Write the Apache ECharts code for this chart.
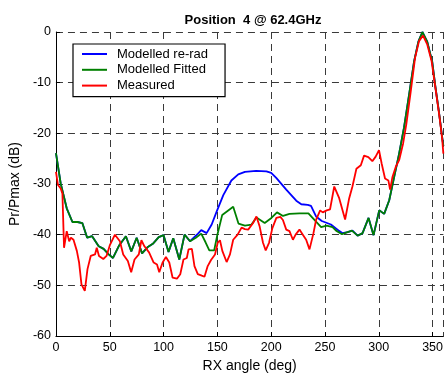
<!DOCTYPE html>
<html>
<head>
<meta charset="utf-8">
<script src="https://cdn.jsdelivr.net/npm/echarts@6/dist/echarts.min.js"></script>
<style>
  html, body { margin: 0; padding: 0; background: #fff; }
  #chart { width: 446px; height: 378px; }
</style>
</head>
<body>
<div id="chart"></div>
<script>
const TITLE = "Position  4 @ 62.4GHz";
const SERIES_NAMES = ["Modelled re-rad", "Modelled Fitted", "Measured"];
const X_TICKS = [0, 50, 100, 150, 200, 250, 300, 350];
const Y_TICKS = [0, -10, -20, -30, -40, -50, -60];

// blue: modelled re-rad
const reradAngle = [0, 4.4, 10, 15.3, 20, 24.5, 29, 33.6, 39.7, 44.3, 49, 53, 58.5, 65, 70, 75, 80, 85, 90, 95.5, 100, 104.6, 109, 114.6, 119.5, 124.6,
  129.5, 132, 135, 140, 144.7, 149.4, 155.5, 163, 169.4, 175.6, 186, 195.6, 200, 204.7, 214, 223.3, 228, 234, 237, 241.7, 247, 255.5, 263.4, 266.4,
  271, 275.6, 280.3, 284.9, 290.5, 295.1, 300.4, 305, 309.7, 314.3, 318.9, 323.5, 328.2, 332.8, 336.8, 340.5, 345, 349.6, 352.7, 355.8, 358.9, 360];
const reradDb = [-23.9, -29.9, -34.8, -37.5, -37.5, -37.7, -40.6, -40.3, -42.3, -42.8, -43.9, -44.6, -42.2, -40.3, -43.3, -40.6, -43.7, -42.5, -41.8, -40.5, -40.1, -43.4, -40.7, -44.9, -40, -41.3,
  -40.3, -39.8, -39.1, -39.7, -38, -35.4, -32.2, -29.3, -28.1, -27.6, -27.4, -27.5, -27.8, -28.8, -31.1, -33.3, -34, -34.1, -34.3, -36.4, -37.3, -38, -39.3, -39.7,
  -39.5, -39.2, -40.2, -39.7, -36.7, -40.1, -35.2, -35.9, -33.2, -28.6, -24, -18.8, -12.3, -5.8, -1.9, 0, -1.9, -5.8, -11, -15.6, -20.8, -22.5];

// green: modelled fitted
const fittedAngle = [0, 4.4, 10, 15.3, 20, 24.5, 29, 33.6, 39.7, 44.3, 49, 53, 58.5, 65, 70, 75, 80, 85, 90, 95.5, 100, 104.6, 109, 114.6, 119.5, 124.6,
  130, 135, 139, 142.5, 147, 150, 154.5, 164.7, 169.6, 175.6, 181.7, 186.3, 194, 200.2, 205.4, 211, 217, 226.3, 234.6, 240.2, 246.4, 251.6, 257, 260.3, 265.8,
  271, 275, 280.3, 284.9, 290.5, 295.1, 300.4, 305, 309.7, 314.3, 318.9, 323.5, 328.2, 332.8, 336.8, 340.5, 345, 349.6, 352.7, 355.8, 358.9, 360];
const fittedDb = [-23.9, -29.9, -34.8, -37.5, -37.5, -37.7, -40.6, -40.3, -42.3, -42.8, -43.9, -44.6, -42.2, -40.3, -43.3, -40.6, -43.7, -42.5, -41.8, -40.5, -40.1, -43.4, -40.7, -44.9, -40, -41.3,
  -40.6, -39.8, -41.5, -43.1, -43.1, -40, -36.1, -34.5, -37.8, -38.2, -38, -36.6, -37.7, -36.7, -35.6, -36.3, -35.9, -35.8, -35.8, -37.1, -38.5, -38.2, -38.5, -39.2, -39.9,
  -39.5, -39.2, -40.2, -39.7, -36.7, -40.1, -35.2, -35.9, -33.2, -28.6, -24, -18.8, -12.3, -5.8, -1.9, 0, -1.9, -5.8, -11, -15.6, -20.8, -22.5];

// red: measured
const measuredAngle = [0, 1.9, 4.4, 6, 7.5, 10, 12.3, 13.9, 16.3, 19.4, 21.5, 23.7, 26.8, 29.3, 32.3, 36.3, 37.9, 40, 44, 47, 50.2, 54.8, 59.4, 62.5, 66.8, 69.9,
  73, 77, 79.4, 82.2, 86.5, 90.8, 93.9, 96, 99.1, 102.2, 105.3, 108.4, 112.4, 115.5, 118.5, 121.6, 123.2, 126.3, 128.7, 131.8, 135.5, 138, 141, 144.1, 147.8,
  150.3, 152.4, 154.6, 158.6, 161.7, 164.7, 168.8, 172.5, 175.6, 178.6, 183.2, 186.3, 189.3, 192.4, 194.9, 198, 201.1, 204.8, 208.5, 210.9, 214, 217, 220.2,
  222.7, 226.3, 229.4, 232.5, 235.6, 237.1, 239.3, 241.7, 245.5, 247.9, 251.6, 254.7, 258.6, 263.2, 268.7, 272.5, 275.5, 279.2, 283.3, 286.3, 290.3, 294,
  297.1, 300.2, 302.7, 305.8, 308.9, 310.5, 312.7, 315.8, 318.9, 322.6, 325.6, 329.7, 333.7, 337.4, 341.1, 345.1, 349.1, 352.8, 356.5, 358.9, 360];
const measuredDb = [-27.6, -30.2, -30.9, -31.9, -42.6, -39.3, -41.3, -40.6, -41, -43.2, -45.5, -49.8, -51.1, -46.8, -44.2, -43.9, -42.6, -44.2, -44.8, -44.2, -42, -40, -41.3, -43.9, -45.2, -47.4,
  -44.9, -43.9, -41.1, -42.3, -43.5, -45.5, -45.9, -47.4, -45.5, -44.4, -45.5, -48.5, -48.7, -47.8, -44.9, -44.6, -42.9, -42.8, -46.2, -47.8, -48.1, -48.3, -46.2, -45, -43.9,
  -41.6, -41.1, -43.2, -45.4, -43.9, -41, -40, -38.6, -38.9, -39, -37.7, -36.4, -38.4, -41.6, -43.1, -41.6, -38.7, -36.7, -36.5, -37.1, -39, -39.3, -41,
  -40, -39, -40, -41, -42.9, -43.2, -39.7, -37.1, -35.2, -35.6, -35.2, -35, -30.5, -32.8, -37, -32.8, -30.5, -27, -26.3, -24.4, -24.7, -25.5,
  -24.6, -23.3, -26, -28.9, -29.3, -31.1, -28.6, -26.6, -25.3, -22, -18.2, -11.7, -5.1, -1.8, -0.7, -2.5, -5.8, -11.3, -16.9, -21.1, -24];

const COLORS = ["#0000ff", "#008000", "#ff0000"];
const FONT = "'Liberation Sans', Arial, sans-serif";

function pairs(xs, ys) {
  return xs.map((x, i) => [x, ys[i]]);
}

const gridLine = { show: true, lineStyle: { color: "#3a3a3a", type: [7, 5], width: 1 } };

const chart = echarts.init(document.getElementById("chart"), null, { renderer: "canvas" });
chart.setOption({
  animation: false,
  backgroundColor: "#fff",
  title: {
    text: TITLE,
    left: 248,
    textAlign: "center",
    top: 9,
    textStyle: { fontFamily: FONT, fontSize: 13, fontWeight: "bold", color: "#000" },
  },
  legend: {
    orient: "vertical",
    left: 73,
    top: 44,
    data: SERIES_NAMES,
    icon: "rect",
    itemWidth: 25,
    itemHeight: 2,
    itemGap: 2.8,
    padding: [3.5, 17, 4.5, 9],
    backgroundColor: "#fff",
    borderColor: "#000",
    borderWidth: 1.2,
    borderRadius: 0,
    textStyle: { fontFamily: FONT, fontSize: 13, lineHeight: 13, color: "#000", padding: [0, 0, 0, 5] },
  },
  grid: { left: 55, right: 1, top: 32, bottom: 39 },
  xAxis: {
    type: "value",
    min: 0,
    max: 360,
    interval: 50,
    name: "RX angle (deg)",
    nameLocation: "middle",
    nameGap: 23,
    nameTextStyle: { fontFamily: FONT, fontSize: 14, color: "#000" },
    axisLine: { show: true, onZero: false, lineStyle: { color: "#000", width: 1 } },
    axisTick: { show: true, inside: true, length: 4, lineStyle: { color: "#000" } },
    axisLabel: {
      fontFamily: FONT, fontSize: 12.5, color: "#000", margin: 5, showMaxLabel: false,
      formatter: (v) => (X_TICKS.includes(v) ? String(v) : ""),
    },
    splitLine: gridLine,
  },
  yAxis: {
    type: "value",
    min: -60,
    max: 0,
    interval: 10,
    name: "Pr/Pmax (dB)",
    nameLocation: "middle",
    nameGap: 31,
    nameTextStyle: { fontFamily: FONT, fontSize: 14, color: "#000" },
    axisLine: { show: true, onZero: false, lineStyle: { color: "#000", width: 1 } },
    axisTick: { show: true, inside: true, length: 4, lineStyle: { color: "#000" } },
    axisLabel: {
      fontFamily: FONT, fontSize: 12.5, color: "#000", margin: 5,
      formatter: (v) => (Y_TICKS.includes(v) ? String(v) : ""),
    },
    splitLine: gridLine,
  },
  series: [
    { name: SERIES_NAMES[0], data: pairs(reradAngle, reradDb) },
    { name: SERIES_NAMES[1], data: pairs(fittedAngle, fittedDb) },
    { name: SERIES_NAMES[2], data: pairs(measuredAngle, measuredDb) },
  ].map((s, i) => ({
    ...s,
    type: "line",
    symbol: "none",
    clip: true,
    color: COLORS[i],
    lineStyle: { color: COLORS[i], width: 1.8 },
  })),
});
</script>
</body>
</html>
